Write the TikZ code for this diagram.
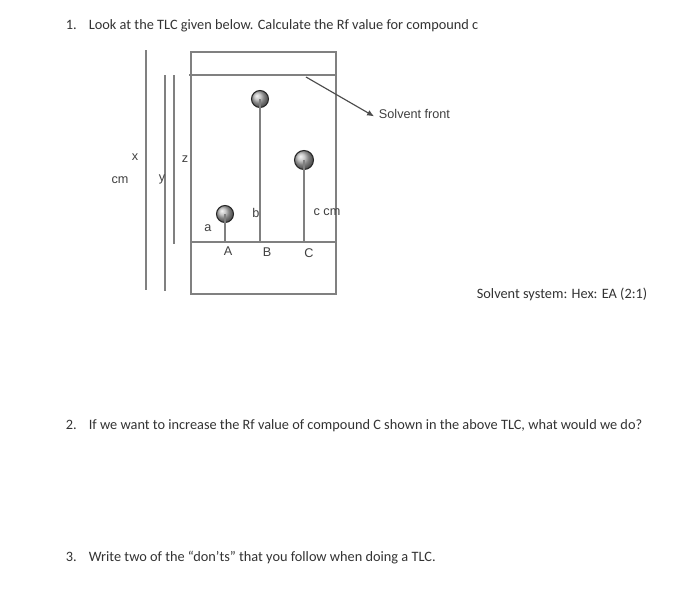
\documentclass[tikz,border=0pt]{standalone}
\usepackage{fontspec}
\usetikzlibrary{arrows.meta}
\setmainfont{Carlito}
\newfontfamily\labelfont{Liberation Sans}
\tikzset{
  question/.style={anchor=base west,inner sep=0pt,text=black!80,font=\fontsize{8.15}{10}\selectfont},
  tag/.style={inner sep=0pt,text=black!75,font=\labelfont\fontsize{7.2}{9}\selectfont},
  plate/.style={draw=black!50,line width=0.65pt},
  spot/.style={circle,inner sep=0pt,minimum size=0.34cm,draw=black!85,line width=0.6pt,ball color=black!28},
}
\begin{document}
\begin{tikzpicture}
\useasboundingbox (0,0) rectangle (14,12.14);
\fill[white] (0,0) rectangle (14,12.14);
% questions
\node[question] (numa) at (1.31,11.56) {1.};
\node[question] (quesa) at (1.77,11.56) {Look at the TLC given below. Calculate the Rf value for compound c};
\node[question] (system) at (9.53,6.18) {Solvent system: Hex: EA (2:1)};
\node[question] (numb) at (1.31,3.56) {2.};
\node[question] (quesb) at (1.77,3.56) {If we want to increase the Rf value of compound C shown in the above TLC, what would we do?};
\node[question] (numc) at (1.31,0.91) {3.};
\node[question] (quesc) at (1.77,0.91) {Write two of the ``don'ts'' that you follow when doing a TLC.};
% plate
\draw[plate] (3.82,6.26) rectangle (6.72,11.1);
\draw[white,line width=1.6pt] (3.75,10.64) -- (6.78,10.64);
\draw[plate] (3.78,10.64) -- (6.74,10.64);
\draw[plate] (3.82,7.3) -- (6.7,7.3);
% height lines
\draw[plate] (2.92,11.14) -- (2.92,6.34);
\draw[plate] (3.3,10.64) -- (3.3,6.32);
\draw[plate] (3.48,10.64) -- (3.48,7.26);
% spots
\coordinate (baseA) at (4.5,7.3);
\coordinate (baseB) at (5.2,7.3);
\coordinate (baseC) at (6.08,7.3);
\node[spot] (spotA) at (4.5,7.86) {};
\node[spot] (spotB) at (5.2,10.16) {};
\node[spot,minimum size=0.38cm] (spotC) at (6.08,8.94) {};
\draw[plate] (spotA.center) -- (baseA);
\draw[plate] (spotB.center) -- (baseB);
\draw[plate] (spotC.center) -- (baseC);
% labels
\node[tag] (front) at (8.29,9.86) {Solvent front};
\coordinate (frontend) at (6.12,10.6);
\draw[plate,draw=black!70,shorten >=3pt,-{Latex[length=1.4mm,width=1.2mm]}] (frontend) -- (front.south west);
\node[tag] (labx) at (2.7,9.0) {x};
\node[tag] (labcm) at (2.4,8.54) {cm};
\node[tag] (laby) at (3.24,8.56) {y};
\node[tag] (labz) at (3.7,8.96) {z};
\node[tag] (laba) at (4.16,7.58) {a};
\node[tag] (labb) at (5.12,7.89) {b};
\node[tag] (labc) at (6.54,7.9) {c cm};
\node[tag] (labA) at (4.56,7.12) {A};
\node[tag] (labB) at (5.34,7.1) {B};
\node[tag] (labC) at (6.18,7.08) {C};
\end{tikzpicture}
\end{document}
